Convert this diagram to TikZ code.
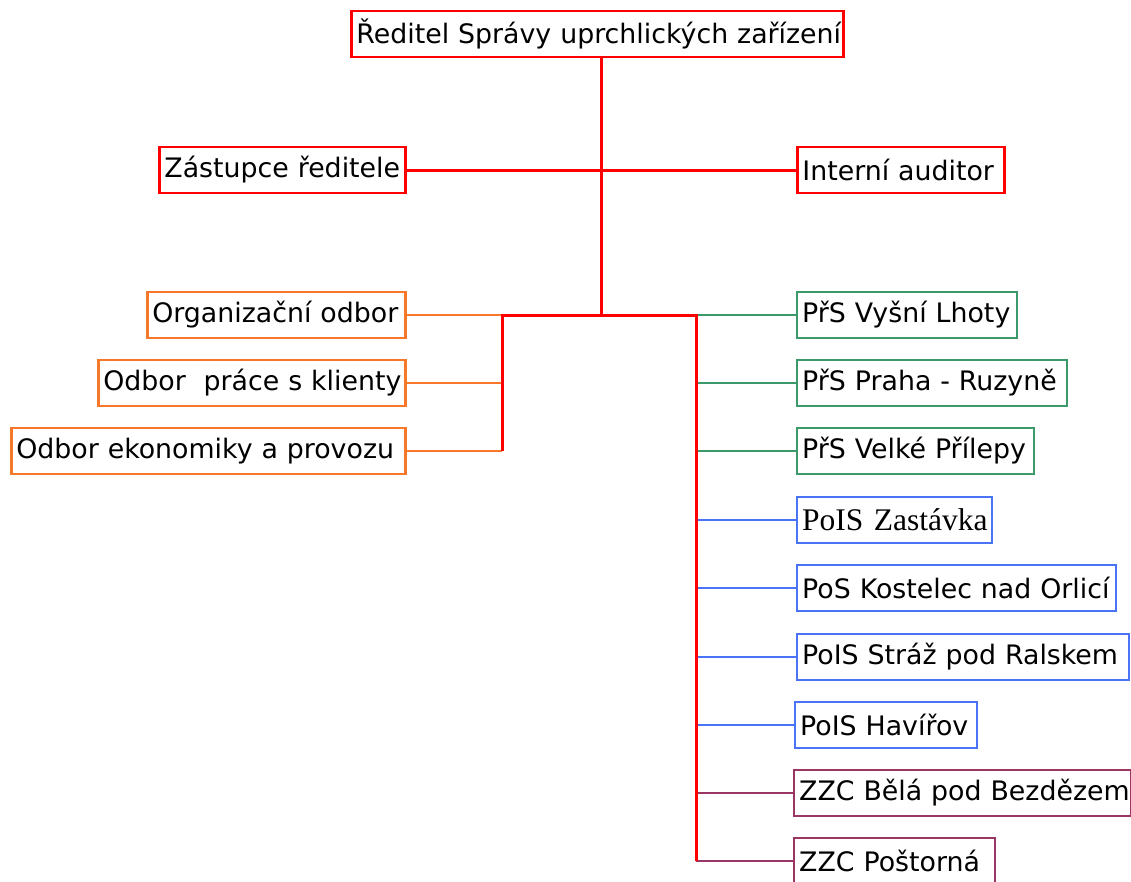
\documentclass[tikz,border=0pt]{standalone}
\usepackage{fontspec}
\setmainfont{DejaVu Sans}
\newfontfamily\serifalt{Liberation Serif}
\definecolor{cred}{HTML}{FF0000}
\definecolor{corange}{HTML}{F8782A}
\definecolor{cgreen}{HTML}{3C9A6A}
\definecolor{cblue}{HTML}{4A74F5}
\definecolor{cpurple}{HTML}{9A3564}
\tikzset{
  box/.style={draw, line width=2.8pt, rectangle, inner xsep=5pt, inner ysep=0pt,
    minimum height=46pt, anchor=west, align=left, font=\fontsize{26.8}{30}\selectfont},
  redbox/.style={box, draw=cred},
  orbox/.style={box, draw=corange, line width=2.6pt},
  grbox/.style={box, draw=cgreen, line width=2.4pt},
  blbox/.style={box, draw=cblue, line width=2.4pt},
  pubox/.style={box, draw=cpurple, line width=2.4pt},
  redline/.style={draw=cred, line width=3pt},
  orline/.style={draw=corange, line width=2.3pt},
  grline/.style={draw=cgreen, line width=2.3pt},
  blline/.style={draw=cblue, line width=2.3pt},
  puline/.style={draw=cpurple, line width=2.3pt},
}
\begin{document}
\begin{tikzpicture}[x=1pt,y=-1pt]
\useasboundingbox (0,0) rectangle (1131,881);
% top
\node[redbox, text width=492pt-10pt] (dir) at (350,34) {\mbox{Ředitel Správy uprchlických zařízení}};
\node[redbox, text width=246pt-10pt] (zast) at (158,170) {\mbox{Zástupce ředitele}};
\node[redbox, text width=207pt-10pt] (aud) at (796,170) {\mbox{Interní auditor}};
% left
\node[orbox, text width=258pt-10pt] (org) at (146,315) {\mbox{Organizační odbor}};
\node[orbox, text width=307pt-10pt] (kli) at (97,383) {\mbox{Odbor\ \ práce s klienty}};
\node[orbox, text width=394pt-10pt] (eko) at (10,451) {\mbox{Odbor ekonomiky a provozu}};
% right
\node[grbox, text width=220pt-10pt] (vl) at (796,315) {\mbox{PřS Vyšní Lhoty}};
\node[grbox, text width=270pt-10pt] (pr) at (796,383) {\mbox{PřS Praha - Ruzyně}};
\node[grbox, text width=237pt-10pt] (vp) at (796,451) {\mbox{PřS Velké Přílepy}};
\node[blbox, text width=195pt-10pt, font=\serifalt\fontsize{31.5}{34}\selectfont] (za) at (796,520) {\mbox{PoIS Zastávka}};
\node[blbox, text width=319pt-10pt] (ko) at (796,588) {\mbox{PoS Kostelec nad Orlicí}};
\node[blbox, text width=332pt-10pt] (st) at (796,657) {\mbox{PoIS Stráž pod Ralskem}};
\node[blbox, text width=182pt-10pt] (ha) at (794,725) {\mbox{PoIS Havířov}};
\node[pubox, text width=337pt-10pt] (be) at (793,793) {\mbox{ZZC Bělá pod Bezdězem}};
\node[pubox, text width=201pt-10pt] (po) at (793,861) {\mbox{ZZC Poštorná}};
% junction coordinates
\coordinate (jm) at (601,315);
\coordinate (jl) at (502,315);
\coordinate (jr) at (696,315);
% connectors
\path[redline] (zast.east) -- (aud.west);
\path[redline] (dir.south -| jm) -- (jm);
\path[orline] (org.east) -- (jl);
\path[orline] (kli.east) -- (kli.east -| jl);
\path[orline] (eko.east) -- (eko.east -| jl);
\path[grline] (vl.west) -- (jr);
\path[grline] (pr.west) -- (pr.west -| jr);
\path[grline] (vp.west) -- (vp.west -| jr);
\path[blline] (za.west) -- (za.west -| jr);
\path[blline] (ko.west) -- (ko.west -| jr);
\path[blline] (st.west) -- (st.west -| jr);
\path[blline] (ha.west) -- (ha.west -| jr);
\path[puline] (be.west) -- (be.west -| jr);
\path[puline] (po.west) -- (po.west -| jr);
\path[redline, line join=miter] (eko.east -| jl) -- (jl) -- (jr) -- (po.west -| jr);
\end{tikzpicture}
\end{document}
